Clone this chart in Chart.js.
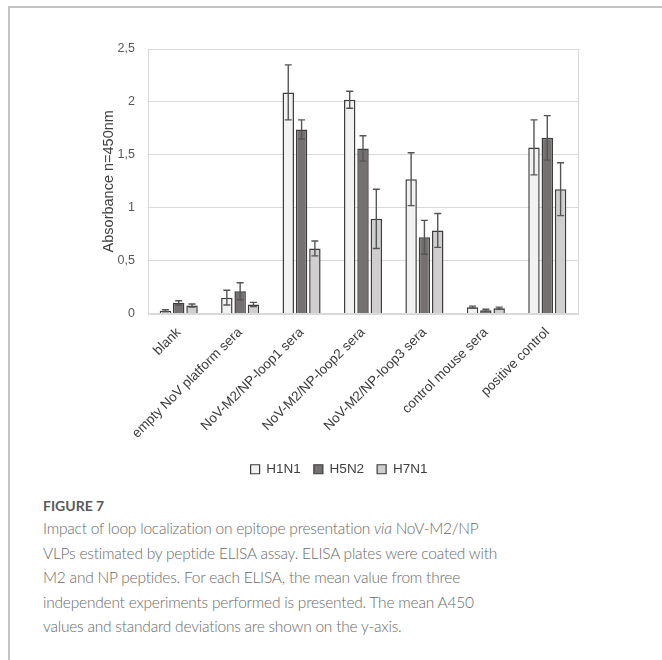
<!DOCTYPE html>
<html>
<head>
<meta charset="utf-8">
<script src="https://cdn.jsdelivr.net/npm/chart.js@4/dist/chart.umd.min.js"></script>
<style>
  html, body { margin: 0; padding: 0; background: #fff; }
  body { width: 662px; height: 660px; position: relative; overflow: hidden; }
  #frame { position: absolute; left: 8px; top: 6px; right: -4px; bottom: -4px;
           border-left: 2px solid #c4c4c4; border-top: 2px solid #c4c4c4; }
  #wrap { position: absolute; left: 0; top: 0; width: 662px; height: 490px; }
  #caption { position: absolute; left: 43px; top: 496px; font-family: "Lato", "Open Sans", sans-serif;
             color: #6a6a6a; white-space: nowrap; }
  #caption .fig { font-size: 14px; font-weight: 700; color: #5a5a5a; line-height: 20px; }
  #caption .txt { font-size: 15.5px; letter-spacing: -0.22px; font-weight: 300; line-height: 24.5px; }
</style>
</head>
<body>
<div id="frame"></div>
<div id="wrap"><canvas id="chart" width="662" height="490"></canvas></div>
<div id="caption">
  <div class="fig">FIGURE 7</div>
  <div class="txt">Impact of loop localization on epitope presentation <i>via</i> NoV-M2/NP<br>VLPs estimated by peptide ELISA assay. ELISA plates were coated with<br>M2 and NP peptides. For each ELISA, the mean value from three<br>independent experiments performed is presented. The mean A450<br>values and standard deviations are shown on the y-axis.</div>
</div>
<script>
// Serum groups tested by peptide ELISA
const categories = [
  'blank',
  'empty NoV platform sera',
  'NoV-M2/NP-loop1 sera',
  'NoV-M2/NP-loop2 sera',
  'NoV-M2/NP-loop3 sera',
  'control mouse sera',
  'positive control'
];

// Mean A450 per virus strain
const h1n1 = [0.025, 0.15, 2.09, 2.02, 1.27, 0.06, 1.57];
const h5n2 = [0.10, 0.21, 1.74, 1.56, 0.72, 0.03, 1.66];
const h7n1 = [0.075, 0.085, 0.615, 0.895, 0.785, 0.05, 1.175];

// Standard deviations
const h1n1Sd = [0.01, 0.07, 0.26, 0.08, 0.25, 0.01, 0.26];
const h5n2Sd = [0.02, 0.08, 0.09, 0.12, 0.16, 0.01, 0.21];
const h7n1Sd = [0.015, 0.02, 0.07, 0.28, 0.16, 0.01, 0.25];

// Y axis tick values (decimal comma labels)
const yTicks = [0, 0.5, 1, 1.5, 2, 2.5];

// Outline of the plotting area
const plotFrame = {
  id: 'plotFrame',
  beforeDatasetsDraw(chart) {
    const { ctx, chartArea: a } = chart;
    ctx.save();
    ctx.strokeStyle = '#d9d9d9';
    ctx.lineWidth = 1;
    ctx.strokeRect(Math.round(a.left) + 0.5, Math.round(a.top) + 0.5,
                   Math.round(a.right - a.left), Math.round(a.bottom - a.top));
    ctx.restore();
  }
};

// Whiskers for mean ± SD on every bar
const errorBars = {
  id: 'errorBars',
  afterDatasetsDraw(chart) {
    const { ctx } = chart;
    const y = chart.scales.y;
    ctx.save();
    ctx.strokeStyle = '#555555';
    ctx.lineWidth = 1.4;
    chart.data.datasets.forEach((ds, i) => {
      const meta = chart.getDatasetMeta(i);
      meta.data.forEach((bar, j) => {
        const v = ds.data[j], e = ds.sd[j];
        const x = bar.x;
        const yt = y.getPixelForValue(v + e);
        const yb = y.getPixelForValue(Math.max(0, v - e));
        const cap = 3.5;
        ctx.beginPath();
        ctx.moveTo(x, yt); ctx.lineTo(x, yb);
        ctx.moveTo(x - cap, yt); ctx.lineTo(x + cap, yt);
        ctx.moveTo(x - cap, yb); ctx.lineTo(x + cap, yb);
        ctx.stroke();
      });
    });
    ctx.restore();
  }
};

const barStyle = { borderColor: '#3c3c3c', borderWidth: 1.5, categoryPercentage: 0.65, barPercentage: 0.86 };

new Chart(document.getElementById('chart'), {
  type: 'bar',
  data: {
    labels: categories,
    datasets: [
      Object.assign({ label: 'H1N1', data: h1n1, sd: h1n1Sd, backgroundColor: '#f2f2f2' }, barStyle),
      Object.assign({ label: 'H5N2', data: h5n2, sd: h5n2Sd, backgroundColor: '#767171' }, barStyle),
      Object.assign({ label: 'H7N1', data: h7n1, sd: h7n1Sd, backgroundColor: '#d0cece' }, barStyle)
    ]
  },
  options: {
    responsive: false,
    animation: false,
    devicePixelRatio: 1,
    layout: { padding: { left: 100, right: 84, top: 49, bottom: 4 } },
    plugins: {
      tooltip: { enabled: false },
      legend: {
        position: 'bottom',
        labels: {
          boxWidth: 9, boxHeight: 9, padding: 13,
          color: '#404040',
          font: { family: 'Liberation Sans, Arial, sans-serif', size: 13.5 },
          generateLabels(chart) {
            return chart.data.datasets.map((ds, i) => ({
              text: ds.label, fillStyle: ds.backgroundColor, strokeStyle: '#3c3c3c',
              lineWidth: 1.2, datasetIndex: i, fontColor: '#404040'
            }));
          }
        }
      }
    },
    scales: {
      x: {
        grid: { display: false, drawTicks: false },
        border: { display: false },
        ticks: {
          minRotation: 45, maxRotation: 45, padding: 11, autoSkip: false,
          color: '#3a3a3a',
          font: { family: 'Liberation Sans, Arial, sans-serif', size: 13.5 }
        },
        afterFit(scale) { scale.height = 136; }
      },
      y: {
        min: 0, max: 2.5,
        afterBuildTicks(scale) { scale.ticks = yTicks.map(v => ({ value: v })); },
        grid: { color: '#d9d9d9', lineWidth: 1, drawTicks: false },
        border: { display: true, color: '#d9d9d9' },
        ticks: {
          padding: 13,
          color: '#595959',
          font: { family: 'Liberation Sans, Arial, sans-serif', size: 12.5 },
          callback: v => String(v).replace('.', ',')
        },
        title: {
          display: true, text: 'Absorbance n=450nm',
          color: '#404040', padding: { top: 0, bottom: 0 },
          font: { family: 'Liberation Sans, Arial, sans-serif', size: 14.5 }
        },
        afterFit(scale) { scale.width = 48; }
      }
    }
  },
  plugins: [plotFrame, errorBars]
});
</script>
</body>
</html>
